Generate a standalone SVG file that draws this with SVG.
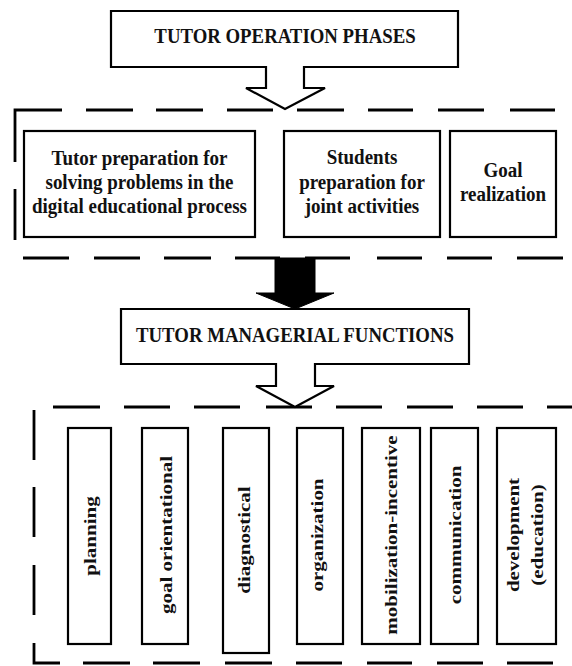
<svg xmlns="http://www.w3.org/2000/svg" width="572" height="666" viewBox="0 0 572 666">
<style>
.bg{fill:#ffffff}
.frame{fill:none;stroke:#000;stroke-width:2.8;stroke-linecap:butt}
.box{fill:#fff;stroke:#000;stroke-width:2.2}
.callout{fill:#fff;stroke:#000;stroke-width:2.2;stroke-linejoin:miter}
.solid{fill:#000;stroke:#000;stroke-width:1}
text{font-family:"Liberation Serif","Times New Roman",serif;font-weight:bold;fill:#111;text-anchor:middle}
.t19{font-size:19px}
.tt{font-size:18.8px}
.rt{font-size:21px}
</style>
<rect class="bg" x="0" y="0" width="572" height="666"/>

<g id="frames">
  <path class="frame" d="M15,162 V110 H62 M86,110 H133 M156,110 H203 M227,110 H273 M297,110 H344 M368,110 H413 M438,110 H484 M510,110 H555 M15,189 V240"/>
  <path class="frame" d="M23,258 H69 M94,258 H140 M164,258 H211 M235,258 H280 M305,258 H350 M377,258 H422 M447,258 H492 M517,258 H563"/>
  <path class="frame" d="M53,407 H100 M124,407 H170 M194,407 H240 M266,407 H312 M336,407 H382 M407,407 H453 M477,407 H523 M547,407 H572 M34,410 V460 M34,487 V537 M34,565 V615 M34,643 V663 H60 M83,663 H130 M153,663 H200 M225,663 H272 M296,663 H342 M367,663 H412 M437,663 H483 M507,663 H553"/>
</g>

<g id="connectors">
  <path class="solid" d="M275,258 H315 V293 H334 L295,309 L256,293 H275 Z"/>
</g>

<g id="phases-title">
  <path class="callout" d="M111,11 H458 V67 H304 V88 H325 L285,109 L246,88 H266 V67 H111 Z"/>
  <text class="tt" transform="translate(285,43) scale(1,1.07)">TUTOR OPERATION PHASES</text>
</g>

<g id="phase-tutor-preparation">
  <rect class="box" x="24" y="131" width="231" height="106"/>
  <text class="t19" transform="translate(139.5,165) scale(1,1.15)">Tutor preparation for</text>
  <text class="t19" transform="translate(139.5,189) scale(1,1.15)">solving problems in the</text>
  <text class="t19" transform="translate(139.5,213) scale(1,1.15)">digital educational process</text>
</g>

<g id="phase-students-preparation">
  <rect class="box" x="284" y="131" width="156" height="106"/>
  <text class="t19" transform="translate(362,164) scale(1,1.15)">Students</text>
  <text class="t19" transform="translate(362,189) scale(1,1.15)">preparation for</text>
  <text class="t19" transform="translate(362,213) scale(1,1.15)">joint activities</text>
</g>

<g id="phase-goal-realization">
  <rect class="box" x="450" y="131" width="106" height="106"/>
  <text class="t19" transform="translate(503,177) scale(1,1.15)">Goal</text>
  <text class="t19" transform="translate(503,201) scale(1,1.15)">realization</text>
</g>

<g id="functions-title">
  <path class="callout" d="M121,309 H469 V364 H315 V386 H334 L295,407 L256,386 H276 V364 H121 Z"/>
  <text class="tt" transform="translate(295,342) scale(1,1.07)">TUTOR MANAGERIAL FUNCTIONS</text>
</g>

<g id="fn-planning">
  <rect class="box" x="68" y="428" width="43" height="216"/>
  <text class="rt" transform="translate(96,536) rotate(-90) scale(1,0.8)">planning</text>
</g>
<g id="fn-goal-orientational">
  <rect class="box" x="142" y="428" width="46" height="216"/>
  <text class="rt" transform="translate(171.5,535) rotate(-90) scale(1,0.8)">goal orientational</text>
</g>
<g id="fn-diagnostical">
  <rect class="box" x="223" y="428" width="46" height="225"/>
  <text class="rt" transform="translate(250,540) rotate(-90) scale(1,0.8)">diagnostical</text>
</g>
<g id="fn-organization">
  <rect class="box" x="297" y="428" width="46" height="216"/>
  <text class="rt" transform="translate(323,535) rotate(-90) scale(1,0.8)">organization</text>
</g>
<g id="fn-mobilization-incentive">
  <rect class="box" x="362" y="428" width="58" height="216"/>
  <text class="rt" transform="translate(397,535) rotate(-90) scale(1,0.8)">mobilization-incentive</text>
</g>
<g id="fn-communication">
  <rect class="box" x="431" y="428" width="47" height="216"/>
  <text class="rt" transform="translate(461,535) rotate(-90) scale(1,0.8)">communication</text>
</g>
<g id="fn-development">
  <rect class="box" x="497" y="428" width="59" height="216"/>
  <text class="rt" transform="translate(519,535) rotate(-90) scale(1,0.8)">development</text>
  <text class="rt" transform="translate(543,535) rotate(-90) scale(1,0.8)">(education)</text>
</g>
</svg>
